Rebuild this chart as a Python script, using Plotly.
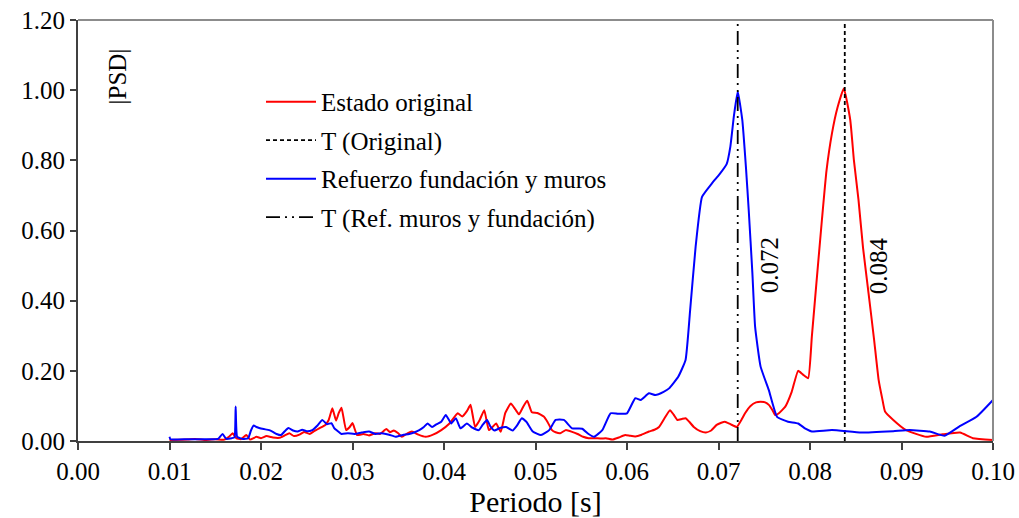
import plotly.graph_objects as go

# ---- data ----
red_x = [0.0100, 0.0120, 0.0128, 0.0140, 0.0150, 0.0160, 0.0165, 0.0169, 0.0173, 0.0178,
         0.0184, 0.0188, 0.0195, 0.0200, 0.0206, 0.0213, 0.0220, 0.0226, 0.0231, 0.0236,
         0.0242, 0.0247, 0.0253, 0.0258, 0.0264, 0.0270, 0.0274, 0.0278, 0.0282, 0.0285,
         0.0288, 0.0293, 0.0297, 0.0300, 0.0305, 0.0312, 0.0318, 0.0325, 0.0330, 0.0337,
         0.0341, 0.0345, 0.0350, 0.0354, 0.0360, 0.0365, 0.0372, 0.0380, 0.0388, 0.0397,
         0.0406, 0.0415, 0.0420, 0.0425, 0.0429, 0.0434, 0.0439, 0.0444, 0.0449, 0.0453,
         0.0457, 0.0462, 0.0467, 0.0473, 0.0478, 0.0482, 0.0487, 0.0491, 0.0496, 0.0502,
         0.0509, 0.0513, 0.0518, 0.0522, 0.0527, 0.0533, 0.0540, 0.0546, 0.0552, 0.0558,
         0.0565, 0.0572, 0.0577, 0.0584, 0.0591, 0.0598, 0.0603, 0.0609, 0.0616, 0.0624,
         0.0630, 0.0635, 0.0641, 0.0647, 0.0651, 0.0655, 0.0660, 0.0664, 0.0668, 0.0673,
         0.0680, 0.0686, 0.0692, 0.0698, 0.0703, 0.0707, 0.0713, 0.0720, 0.0725, 0.0729,
         0.0735, 0.0741, 0.0746, 0.0751, 0.0755, 0.0759, 0.0762, 0.0766, 0.0773, 0.0780,
         0.0787, 0.0792, 0.0798, 0.0802, 0.0807, 0.0813, 0.0818, 0.0824, 0.0830, 0.0837,
         0.0844, 0.0848, 0.0853, 0.0858, 0.0864, 0.0870, 0.0875, 0.0879, 0.0882, 0.0891,
         0.0905, 0.0927, 0.0945, 0.0964, 0.0978, 0.1000]
red_y = [0.003, 0.004, 0.006, 0.003, 0.005, 0.004, 0.012, 0.022, 0.008, 0.005,
         0.017, 0.004, 0.012, 0.008, 0.014, 0.010, 0.009, 0.016, 0.022, 0.014,
         0.018, 0.026, 0.020, 0.028, 0.037, 0.045, 0.060, 0.093, 0.058, 0.080,
         0.095, 0.031, 0.040, 0.051, 0.017, 0.020, 0.016, 0.022, 0.020, 0.034,
         0.025, 0.030, 0.022, 0.012, 0.022, 0.027, 0.018, 0.012, 0.018, 0.031,
         0.050, 0.079, 0.070, 0.085, 0.103, 0.040, 0.060, 0.088, 0.031, 0.040,
         0.050, 0.026, 0.080, 0.107, 0.090, 0.076, 0.100, 0.115, 0.082, 0.080,
         0.070, 0.055, 0.031, 0.025, 0.022, 0.031, 0.026, 0.020, 0.012, 0.008,
         0.008, 0.007, 0.008, 0.004, 0.010, 0.017, 0.015, 0.013, 0.018, 0.027,
         0.032, 0.040, 0.065, 0.088, 0.075, 0.060, 0.063, 0.065, 0.055, 0.040,
         0.028, 0.024, 0.030, 0.046, 0.052, 0.055, 0.048, 0.040, 0.060, 0.079,
         0.100, 0.110, 0.112, 0.110, 0.103, 0.088, 0.074, 0.079, 0.098, 0.140,
         0.200, 0.190, 0.179, 0.297, 0.450, 0.630, 0.770, 0.877, 0.950, 1.005,
         0.915, 0.800, 0.687, 0.550, 0.421, 0.290, 0.174, 0.120, 0.084, 0.060,
         0.031, 0.012, 0.019, 0.024, 0.008, 0.003]

blue_x = [0.0100, 0.0101, 0.0120, 0.0140, 0.0153, 0.0158, 0.0162, 0.0168, 0.0171, 0.01723,
          0.0174, 0.0180, 0.0186, 0.0189, 0.0192, 0.0195, 0.0198, 0.0203, 0.0209, 0.0213,
          0.0217, 0.0222, 0.0226, 0.0230, 0.0235, 0.0240, 0.0245, 0.0250, 0.0256, 0.0262,
          0.0267, 0.0272, 0.0277, 0.0280, 0.0284, 0.0288, 0.0295, 0.0302, 0.0310, 0.0318,
          0.0325, 0.0332, 0.0340, 0.0347, 0.0355, 0.0362, 0.0368, 0.0373, 0.0378, 0.0382,
          0.0387, 0.0392, 0.0397, 0.0402, 0.0408, 0.0413, 0.0418, 0.0425, 0.0431, 0.0438,
          0.0442, 0.0447, 0.0451, 0.0455, 0.0462, 0.0468, 0.0475, 0.0480, 0.0485, 0.0490,
          0.0497, 0.0506, 0.0515, 0.0522, 0.0531, 0.0540, 0.0551, 0.0558, 0.0564, 0.0573,
          0.0582, 0.0590, 0.0600, 0.0609, 0.0615, 0.0624, 0.0631, 0.0640, 0.0646, 0.0656,
          0.0664, 0.0669, 0.0675, 0.0682, 0.0693, 0.0701, 0.0709, 0.0713, 0.0717, 0.0721,
          0.0726, 0.0730, 0.0733, 0.0737, 0.0740, 0.0746, 0.0755, 0.0764, 0.0776, 0.0787,
          0.0795, 0.0802, 0.0824, 0.0856, 0.0891, 0.0909, 0.0931, 0.0947, 0.0963, 0.0982,
          0.1000]
blue_y = [0.012, 0.005, 0.005, 0.005, 0.006, 0.020, 0.006, 0.008, 0.010, 0.098,
          0.012, 0.006, 0.008, 0.030, 0.044, 0.040, 0.037, 0.034, 0.031, 0.026,
          0.020, 0.017, 0.028, 0.037, 0.030, 0.027, 0.032, 0.028, 0.031, 0.045,
          0.060, 0.048, 0.051, 0.037, 0.028, 0.020, 0.022, 0.020, 0.024, 0.027,
          0.020, 0.022, 0.018, 0.012, 0.017, 0.020, 0.025, 0.031, 0.040, 0.050,
          0.040, 0.048, 0.055, 0.074, 0.050, 0.065, 0.036, 0.050, 0.038, 0.031,
          0.045, 0.060, 0.040, 0.030, 0.038, 0.040, 0.030, 0.045, 0.065, 0.055,
          0.027, 0.017, 0.031, 0.060, 0.060, 0.036, 0.035, 0.020, 0.012, 0.031,
          0.079, 0.078, 0.079, 0.122, 0.117, 0.136, 0.131, 0.140, 0.150, 0.183,
          0.231, 0.373, 0.554, 0.696, 0.735, 0.760, 0.790, 0.840, 0.930, 0.996,
          0.915, 0.780, 0.659, 0.480, 0.326, 0.212, 0.145, 0.069, 0.055, 0.050,
          0.035, 0.027, 0.031, 0.024, 0.028, 0.031, 0.027, 0.015, 0.041, 0.069,
          0.117]

T_original = 0.0838
T_refuerzo = 0.0721
T_labels = ["0.084", "0.072"]
x_ticks = [0.00, 0.01, 0.02, 0.03, 0.04, 0.05, 0.06, 0.07, 0.08, 0.09, 0.10]
y_ticks = [0.0, 0.2, 0.4, 0.6, 0.8, 1.0, 1.2]

FONT = "Liberation Serif, Times New Roman, serif"
FS = 25

fig = go.Figure()
fig.add_trace(go.Scatter(x=red_x, y=red_y, mode="lines", name="Estado original",
                         line=dict(color="#ff0000", width=2, shape="spline", smoothing=0.4),
                         legendgroup="a"))
fig.add_trace(go.Scatter(x=[T_original, T_original], y=[0, 1.2], mode="lines", name="T (Original)",
                         line=dict(color="black", width=1.8, dash="4px,3px"), legendgroup="b"))
fig.add_trace(go.Scatter(x=blue_x, y=blue_y, mode="lines", name="Refuerzo fundación y muros",
                         line=dict(color="#0000ff", width=2, shape="spline", smoothing=0.4),
                         legendgroup="c"))
fig.add_trace(go.Scatter(x=[T_refuerzo, T_refuerzo], y=[0, 1.2], mode="lines",
                         name="T (Ref. muros y fundación)",
                         line=dict(color="black", width=1.8, dash="14px,5px,2px,5px,2px,5px"),
                         legendgroup="d"))

# labels of the periods
fig.add_annotation(x=T_original, y=0.5, xshift=34, text=T_labels[0], textangle=-90,
                   showarrow=False, font=dict(family=FONT, size=FS, color="black"))
fig.add_annotation(x=T_refuerzo, y=0.5, xshift=32, text=T_labels[1], textangle=-90,
                   showarrow=False, font=dict(family=FONT, size=FS, color="black"))
# |PSD| label
fig.add_annotation(x=0.0043, y=1.04, text="|PSD|", textangle=-90, showarrow=False,
                   font=dict(family=FONT, size=FS, color="black"))

# gray frame (top & right)
fig.add_shape(type="line", xref="paper", yref="paper", x0=0, x1=1, y0=1, y1=1,
              line=dict(color="#8c8c8c", width=2))
fig.add_shape(type="line", xref="paper", yref="paper", x0=1, x1=1, y0=0, y1=1,
              line=dict(color="#8c8c8c", width=2))

fig.update_layout(
    width=1019, height=518,
    margin=dict(l=78, r=26, t=20, b=77),
    paper_bgcolor="white", plot_bgcolor="white",
    font=dict(family=FONT, size=FS, color="black"),
    showlegend=True,
    legend=dict(x=0.2, y=0.86, xanchor="left", yanchor="top",
                bgcolor="rgba(0,0,0,0)", font=dict(family=FONT, size=FS),
                tracegroupgap=3, itemwidth=50, traceorder="grouped"),
    xaxis=dict(range=[0, 0.1], tickvals=x_ticks, tickformat=".2f", automargin=False,
               showgrid=False, zeroline=False, showline=True, linecolor="#404040", linewidth=2,
               ticks="outside", ticklen=7, tickcolor="#404040", tickwidth=1.5,
               title=dict(text="Periodo [s]", standoff=10)),
    yaxis=dict(range=[0, 1.2], tickvals=y_ticks, tickformat=".2f", automargin=False,
               showgrid=False, zeroline=False, showline=True, linecolor="#404040", linewidth=2,
               ticks="outside", ticklen=6, tickcolor="#404040", tickwidth=1.5),
)

fig.write_html("out.html", config={"displayModeBar": False},
               post_script="document.body.style.margin='0';document.body.style.overflow='hidden';")
